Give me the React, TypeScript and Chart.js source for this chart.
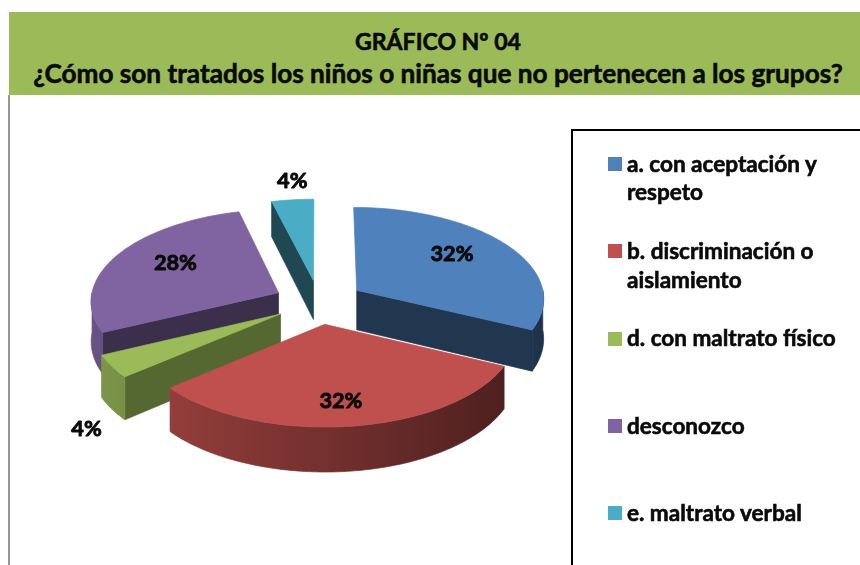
import React, { useEffect, useMemo, useRef } from "react";
import { Chart, registerables } from "chart.js";

Chart.register(...registerables);

// ---------- data ----------
const titleLines = [
  "GRÁFICO Nº 04",
  "¿Cómo son tratados los niños o niñas que no pertenecen a los grupos?",
];
const categories = [
  "a. con aceptación y respeto",
  "b. discriminación o aislamiento",
  "d. con maltrato físico",
  "desconozco",
  "e. maltrato verbal",
];
const legendLines = [
  ["a. con aceptación y", "respeto"],
  ["b. discriminación o", "aislamiento"],
  ["d. con maltrato físico"],
  ["desconozco"],
  ["e. maltrato verbal"],
];
const values = [32, 32, 4, 28, 4];
const percentLabels = ["32%", "32%", "4%", "28%", "4%"];
const colors = ["#4F81BD", "#C0504D", "#9BBB59", "#8064A2", "#4BACC6"];

// ---------- 3D look (style constants) ----------
const FONT = 'Lato, "Noto Sans", sans-serif';
const TEXT = "#0a0a0a";
const SX = 1.88; // horizontal radius factor
const KY = 0.92; // vertical radius factor
const P = 0.079; // vertical perspective
const Q = 0.08; // horizontal perspective
const DEPTH = 0.4; // extrusion depth (in radii)
const PD = 0.1; // depth perspective
const LABEL_VS = 1.17;
const LABEL_IN = 0.63;

function fitSize(text: string, width: number) {
  const c = document.createElement("canvas").getContext("2d");
  if (!c) return 20;
  c.font = `bold 100px ${FONT}`;
  const w = c.measureText(text).width;
  return w > 0 ? (100 * width) / w : 20;
}

function hexToRgb(h: string) {
  const n = parseInt(h.slice(1), 16);
  return [(n >> 16) & 255, (n >> 8) & 255, n & 255];
}
function shade(h: string, f: number) {
  const [r, g, b] = hexToRgb(h);
  const c = (v: number) => Math.max(0, Math.min(255, Math.round(v * f)));
  return `rgb(${c(r)},${c(g)},${c(b)})`;
}

function proj(cx: number, cy: number, R: number, u: number, v: number, z: number, vs = 1) {
  const x = cx + R * SX * u * (1 + Q * v);
  const y = cy + R * KY * vs * v * (1 + P * v) + z * R * DEPTH * (1 + PD * v);
  return [x, y];
}

function steps(from: number, to: number) {
  const n = Math.max(2, Math.ceil(Math.abs(to - from) / (Math.PI / 180)));
  const out: number[] = [];
  for (let k = 0; k <= n; k++) out.push(from + ((to - from) * k) / n);
  return out;
}

function poly(ctx: CanvasRenderingContext2D, pts: number[][], fill: any) {
  ctx.beginPath();
  pts.forEach((p, i) => (i === 0 ? ctx.moveTo(p[0], p[1]) : ctx.lineTo(p[0], p[1])));
  ctx.closePath();
  ctx.fillStyle = fill;
  ctx.strokeStyle = fill;
  ctx.lineWidth = 0.7;
  ctx.lineJoin = "round";
  ctx.fill();
  ctx.stroke();
}

function makePie3d(labelSize: number) {
  return {
    id: "pie3d",
    beforeDatasetsDraw(chart: any) {
      const ctx: CanvasRenderingContext2D = chart.ctx;
      const meta = chart.getDatasetMeta(0);
      const arcs = meta.data.map((el: any, i: number) => {
        const p = el.getProps(["x", "y", "startAngle", "endAngle", "outerRadius"], true);
        return {
          i,
          x: p.x,
          y: p.y,
          s: p.startAngle,
          e: p.endAngle,
          R: p.outerRadius,
          offset: el.options.offset || 0,
          color: el.options.backgroundColor as string,
        };
      });
      const order = [...arcs].sort(
        (a, b) => Math.sin((a.s + a.e) / 2) - Math.sin((b.s + b.e) / 2)
      );
      ctx.save();
      for (const a of order) {
        const { x: cx, y: cy, R, s, e, color } = a;
        const m = (s + e) / 2;
        const o = a.offset / R;
        const u0 = o * Math.cos(m);
        const v0 = o * Math.sin(m);
        const rim = (t: number, z: number) =>
          proj(cx, cy, R, u0 + Math.cos(t), v0 + Math.sin(t), z);
        const ctr = (z: number) => proj(cx, cy, R, u0, v0, z);
        const face = (t: number, nx: number) => {
          const f = 0.42 + 0.4 * Math.max(0, nx - 0.3);
          poly(ctx, [ctr(0), rim(t, 0), rim(t, 1), ctr(1)], shade(color, f));
        };
        if (Math.cos(s) < -1e-6) face(s, Math.sin(s));
        if (Math.cos(e) > 1e-6) face(e, -Math.sin(e));
        const lo = Math.max(s, 0);
        const hi = Math.min(e, Math.PI);
        if (hi > lo) {
          const ts = steps(lo, hi);
          const top = ts.map((t) => rim(t, 0));
          const bot = [...ts].reverse().map((t) => rim(t, 1));
          const xs = top.map((p) => p[0]);
          const xL = Math.min(...xs);
          const xR = Math.max(...xs);
          let fill: any = shade(color, 0.6 - 0.22 * Math.cos((lo + hi) / 2));
          if (xR - xL > 1) {
            const g = ctx.createLinearGradient(xL, 0, xR, 0);
            ts.forEach((t, k) => {
              const pos = (xs[k] - xL) / (xR - xL);
              g.addColorStop(
                Math.max(0, Math.min(1, pos)),
                shade(color, 0.6 - 0.22 * Math.cos(t))
              );
            });
            fill = g;
          }
          poly(ctx, [...top, ...bot], fill);
        }
        poly(ctx, [ctr(0), ...steps(s, e).map((t) => rim(t, 0))], color);
      }
      // labels
      ctx.fillStyle = TEXT;
      ctx.strokeStyle = TEXT;
      ctx.lineWidth = 0.9;
      ctx.lineJoin = "round";
      ctx.font = `bold ${labelSize}px ${FONT}`;
      ctx.textAlign = "center";
      ctx.textBaseline = "middle";
      for (const a of arcs) {
        const { x: cx, y: cy, R, s, e } = a;
        const m = (s + e) / 2;
        const o = a.offset / R;
        const u0 = o * Math.cos(m);
        const v0 = o * Math.sin(m);
        const outside = values[a.i] < 10;
        const rl = outside ? 1.1 + 0.08 * Math.sin(m) : LABEL_IN;
        const z = outside && Math.sin(m) > 0 ? 1 : 0;
        const [lx, ly] = proj(
          cx,
          cy,
          R,
          u0 + rl * Math.cos(m),
          v0 + rl * Math.sin(m),
          z,
          LABEL_VS
        );
        ctx.fillText(percentLabels[a.i], lx, ly);
        ctx.strokeText(percentLabels[a.i], lx, ly);
      }
      ctx.restore();
      return false;
    },
  };
}

export default function App() {
  const ref = useRef<HTMLCanvasElement | null>(null);
  const sizes = useMemo(
    () => ({
      t1: fitSize(titleLines[0], 166),
      t2: fitSize(titleLines[1], 810),
      legend: fitSize(legendLines[2][0], 209),
      label: fitSize(percentLabels[0], 43),
    }),
    []
  );

  useEffect(() => {
    document.body.style.margin = "0";
    const canvas = ref.current;
    if (!canvas) return;
    const chart = new Chart(canvas, {
      type: "pie",
      data: {
        labels: categories,
        datasets: [
          {
            data: values,
            backgroundColor: colors,
            borderWidth: 0,
            offset: 24,
          },
        ],
      },
      options: {
        responsive: false,
        animation: false,
        radius: 100,
        layout: { padding: { left: 219, right: 441, top: 202, bottom: 163 } },
        plugins: {
          legend: { display: false },
          tooltip: { enabled: false },
          title: { display: false },
        },
      } as any,
      plugins: [makePie3d(sizes.label) as any],
    });
    return () => chart.destroy();
  }, [sizes]);

  const lineCenter = (i: number) => 164 + i * 87.3;
  const LH = 28.5;
  const heavy: any = { WebkitTextStroke: `0.6px ${TEXT}` };

  return (
    <div
      style={{
        position: "relative",
        width: 860,
        height: 565,
        overflow: "hidden",
        background: "#fff",
        fontFamily: FONT,
      }}
    >
      <div
        style={{
          position: "absolute",
          left: 9,
          top: 12,
          width: 851,
          height: 83,
          background: "#9BBB59",
        }}
      />
      <div
        style={{
          position: "absolute",
          left: 0,
          top: 41 - 15,
          width: 876,
          textAlign: "center",
          fontWeight: 700,
          fontSize: sizes.t1,
          lineHeight: "30px",
          color: TEXT,
          whiteSpace: "nowrap",
          ...heavy,
        }}
      >
        {titleLines[0]}
      </div>
      <div
        style={{
          position: "absolute",
          left: 0,
          top: 73 - 15,
          width: 876,
          textAlign: "center",
          fontWeight: 700,
          fontSize: sizes.t2,
          lineHeight: "30px",
          color: TEXT,
          whiteSpace: "nowrap",
          ...heavy,
        }}
      >
        {titleLines[1]}
      </div>
      <div
        style={{
          position: "absolute",
          left: 8,
          top: 95,
          width: 2,
          height: 470,
          background: "#979797",
        }}
      />
      <canvas
        ref={ref}
        width={860}
        height={565}
        style={{ position: "absolute", left: 0, top: 0, width: 860, height: 565 }}
      />
      <div
        style={{
          position: "absolute",
          left: 571,
          top: 129,
          width: 320,
          height: 480,
          border: "2px solid #000",
          background: "transparent",
        }}
      />
      {legendLines.map((lines, i) => (
        <div key={i}>
          <div
            style={{
              position: "absolute",
              left: 608,
              top: lineCenter(i) - 7,
              width: 14,
              height: 14,
              background: colors[i],
            }}
          />
          <div
            style={{
              position: "absolute",
              left: 627,
              top: lineCenter(i) - LH / 2,
              fontWeight: 700,
              fontSize: sizes.legend,
              lineHeight: `${LH}px`,
              color: TEXT,
              whiteSpace: "nowrap",
              ...heavy,
            }}
          >
            {lines.map((l, k) => (
              <div key={k}>{l}</div>
            ))}
          </div>
        </div>
      ))}
    </div>
  );
}
